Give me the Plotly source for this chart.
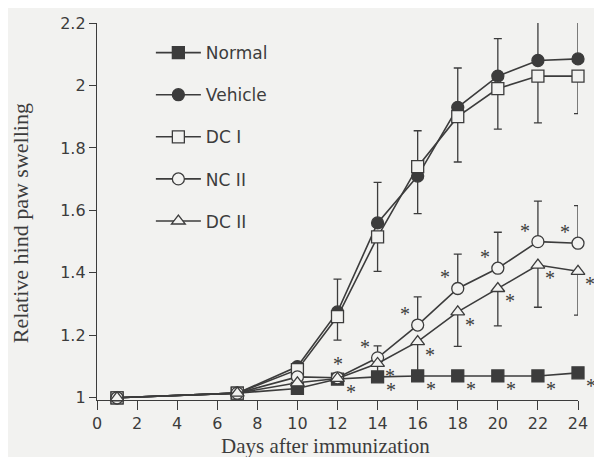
import plotly.graph_objects as go

days = [1, 7, 10, 12, 14, 16, 18, 20, 22, 24]
normal = [1.0, 1.015, 1.03, 1.06, 1.067, 1.07, 1.07, 1.07, 1.07, 1.08]
vehicle = [1.0, 1.015, 1.10, 1.275, 1.56, 1.71, 1.93, 2.03, 2.08, 2.085]
dc1 = [1.0, 1.015, 1.09, 1.26, 1.515, 1.74, 1.90, 1.99, 2.03, 2.03]
nc2 = [1.0, 1.015, 1.067, 1.064, 1.128, 1.233, 1.35, 1.415, 1.50, 1.495]
dc2 = [1.0, 1.015, 1.048, 1.062, 1.11, 1.18, 1.275, 1.35, 1.425, 1.405]

# error bars (upper for Vehicle / NC II, lower for DC I / DC II)
vehicle_err = [0, 0, 0, 0.105, 0.13, 0.145, 0.126, 0.12, 0.14, 0.14]
dc1_err = [0, 0, 0, 0.075, 0.11, 0.15, 0.145, 0.13, 0.15, 0.12]
nc2_err = [0, 0, 0, 0, 0.038, 0.09, 0.11, 0.115, 0.13, 0.12]
dc2_err = [0, 0, 0, 0, 0.04, 0.11, 0.11, 0.12, 0.135, 0.14]
zeros = [0] * len(days)

# significance marks (days)
normal_sig = [12, 14, 16, 18, 20, 22, 24]
nc2_sig = [12, 14, 16, 18, 20, 22, 24]
dc2_sig = [14, 16, 18, 20, 22, 24]

x_ticks = list(range(0, 25, 2))
y_ticks = [1, 1.2, 1.4, 1.6, 1.8, 2, 2.2]
x_title = "Days after immunization"
y_title = "Relative hind paw swelling"

BG = "#f2f2f0"
INK = "#3c3c3c"
LW = 1.6
SANS = "DejaVu Sans"
SERIF = "Liberation Serif"

fig = go.Figure()

def add(name, y, symbol, fill, up, down, group):
    fig.add_trace(go.Scatter(
        x=days, y=y, name=name, mode="lines+markers",
        legendgroup=group,
        line=dict(color=INK, width=LW),
        marker=dict(symbol=symbol, size=12, color=fill, line=dict(color=INK, width=1.3)),
        error_y=dict(type="data", symmetric=False, array=up, arrayminus=down,
                     color=INK, thickness=1.3, width=4),
        cliponaxis=False,
    ))

add("Normal", normal, "square", INK, zeros, zeros, "a")
add("Vehicle", vehicle, "circle", INK, vehicle_err, zeros, "b")
add("DC I", dc1, "square", BG, zeros, dc1_err, "c")
add("NC II", nc2, "circle", BG, nc2_err, zeros, "d")
add("DC II", dc2, "triangle-up", BG, zeros, dc2_err, "e")

def stars(xs, series, dx, dy):
    for d in xs:
        yv = series[days.index(d)]
        fig.add_annotation(x=d, y=yv, text="*", showarrow=False,
                           xshift=dx, yshift=dy,
                           font=dict(family=SERIF, size=20, color=INK))

stars(normal_sig, normal, 13, -13)
stars(nc2_sig[1:], nc2, -13, 11)
stars(nc2_sig[:1], nc2, 0, 14)
stars(dc2_sig, dc2, 12, -13)

# axis titles
fig.add_annotation(text=x_title, xref="paper", yref="paper", x=0.476, y=-0.122,
                   xanchor="center", yanchor="middle", showarrow=False,
                   font=dict(family=SERIF, size=21, color=INK))
fig.add_annotation(text=y_title, xref="paper", yref="paper", x=-0.160, y=0.469,
                   xanchor="center", yanchor="middle", showarrow=False, textangle=-90,
                   font=dict(family=SERIF, size=22, color=INK))

# the page body adds an 8px offset at top-left; margins compensate for it
fig.update_layout(
    width=602, height=457,
    paper_bgcolor=BG, plot_bgcolor=BG,
    margin=dict(l=89, r=32, t=15, b=65),
    font=dict(family=SANS, size=16, color=INK),
    showlegend=True,
    legend=dict(x=0.112, y=0.968, xanchor="left", yanchor="top",
                bgcolor="rgba(0,0,0,0)", tracegroupgap=17, itemwidth=45,
                font=dict(family=SANS, size=17, color=INK)),
    xaxis=dict(range=[0, 24], tickvals=x_ticks, ticks="outside", ticklen=9,
               tickwidth=1.3, tickcolor=INK, showline=True, linecolor=INK,
               linewidth=1.3, showgrid=False, zeroline=False, automargin=False),
    yaxis=dict(range=[0.993, 2.2], tickvals=y_ticks, ticks="outside", ticklen=7,
               tickwidth=1.3, tickcolor=INK, showline=True, linecolor=INK,
               linewidth=1.3, showgrid=False, zeroline=False, automargin=False),
)

fig.write_html("out.html")
